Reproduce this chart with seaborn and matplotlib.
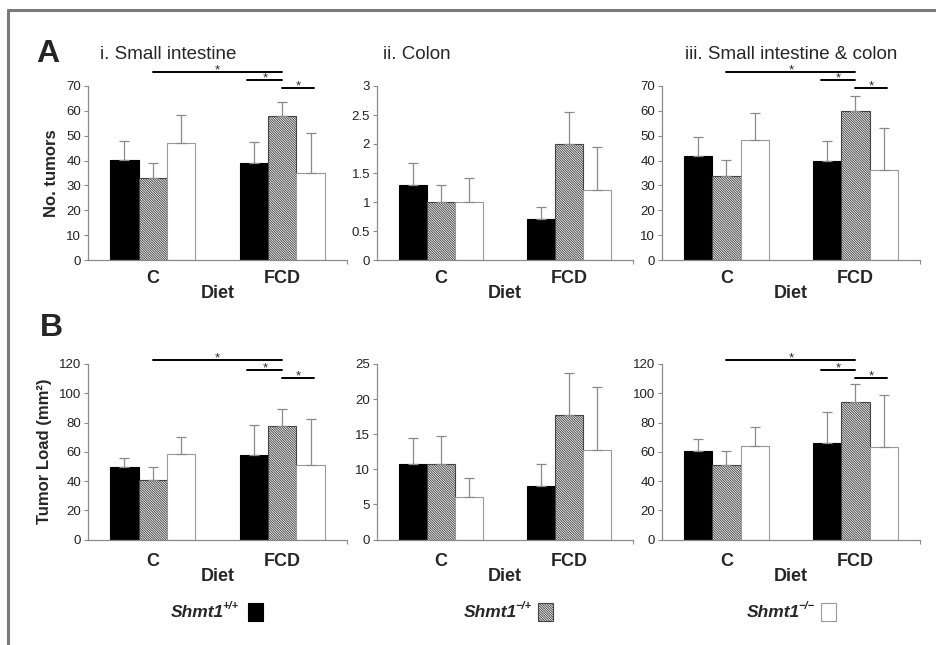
from __future__ import annotations

import matplotlib

matplotlib.use("Agg")

import matplotlib.pyplot as plt
import pandas as pd
import seaborn as sns
from matplotlib.lines import Line2D
from matplotlib.patches import Rectangle


OUTFILE = "out.png"
W, H = 937, 645

DIETS = ["C", "FCD"]
GENOTYPES = ["+/+", "\u2212/+", "\u2212/\u2212"]

# rows: Shmt1 +/+, -/+, -/- ; columns: C, FCD
SI_COUNT = [[40.3, 39.0], [33.0, 58.0], [47.0, 35.2]]
SI_COUNT_SEM = [[7.7, 8.3], [6.2, 5.7], [11.2, 15.8]]
COLON_COUNT = [[1.3, 0.7], [1.0, 2.0], [1.0, 1.2]]
COLON_COUNT_SEM = [[0.38, 0.22], [0.30, 0.55], [0.41, 0.75]]
ALL_COUNT = [[41.8, 39.7], [33.9, 60.0], [48.1, 36.4]]
ALL_COUNT_SEM = [[7.8, 8.0], [6.3, 5.8], [11.2, 16.7]]

SI_LOAD = [[49.3, 57.5], [40.9, 77.3], [58.4, 50.7]]
SI_LOAD_SEM = [[6.4, 21.1], [8.4, 11.8], [11.6, 31.8]]
COLON_LOAD = [[10.7, 7.6], [10.7, 17.7], [6.1, 12.7]]
COLON_LOAD_SEM = [[3.8, 3.1], [4.1, 6.0], [2.7, 9.0]]
ALL_LOAD = [[60.5, 65.7], [51.2, 94.1], [64.1, 63.4]]
ALL_LOAD_SEM = [[8.1, 21.2], [9.1, 12.4], [13.1, 35.5]]

COUNT_TICKS = [0, 10, 20, 30, 40, 50, 60, 70]
COLON_COUNT_TICKS = [0, 0.5, 1, 1.5, 2, 2.5, 3]
LOAD_TICKS = [0, 20, 40, 60, 80, 100, 120]
COLON_LOAD_TICKS = [0, 5, 10, 15, 20, 25]

TITLES = ["i. Small intestine", "ii. Colon", "iii. Small intestine & colon"]

# heights of the significance bars (data units): C vs FCD, +/+ vs -/+, -/+ vs -/-
SIG_COUNT = [75.7, 72.3, 69.2]
SIG_LOAD = [122.5, 115.7, 110.7]

BAR_FACE = {"+/+": "black", "\u2212/+": "white", "\u2212/\u2212": "white"}
BAR_EDGE = ["black", "#444444", "#9a9a9a"]
HATCH = "\\" * 14
AXIS_GRAY = "#8a8a8a"

COL_X = [(88, 347), (377, 633), (662, 920)]
ROW_Y = [(86, 260), (364, 539.5)]


def fx(x):
    return x / W


def fy(y):
    return 1 - y / H


def to_frame(means, sems):
    rows = []
    for g, gm, gs in zip(GENOTYPES, means, sems):
        for d, m, s in zip(DIETS, gm, gs):
            rows.append({"diet": d, "genotype": g, "value": m, "sem": s})
    return pd.DataFrame(rows)


def draw_panel(ax, means, sems, ticks, sig, row):
    df = to_frame(means, sems)
    sns.barplot(
        data=df, x="diet", y="value", hue="genotype", order=DIETS, hue_order=GENOTYPES,
        palette=BAR_FACE, saturation=1, errorbar=None, width=0.66, gap=0,
        legend=False, ax=ax,
    )
    bars = list(ax.containers)
    for cont, edge, g in zip(bars, BAR_EDGE, GENOTYPES):
        sub = df[df["genotype"] == g].set_index("diet").loc[DIETS]
        xs = [p.get_x() + p.get_width() / 2 for p in cont.patches]
        for p in cont.patches:
            p.set_edgecolor(edge)
            p.set_linewidth(0.8)
            if g == "\u2212/+":
                p.set_hatch(HATCH)
        ax.errorbar(
            xs, sub["value"], yerr=[[0] * len(xs), sub["sem"]], fmt="none",
            ecolor=AXIS_GRAY, elinewidth=0.9, capsize=3.5, capthick=0.9, zorder=1,
        )

    ax.set_xlim(-0.5, 1.5)
    ax.set_ylim(0, ticks[-1])
    ax.set_yticks(ticks)
    ax.set_yticklabels([f"{t:g}" for t in ticks])
    ax.set_xticks([1.5], minor=True)
    sns.despine(ax=ax)
    for side in ("left", "bottom"):
        ax.spines[side].set_color(AXIS_GRAY)
        ax.spines[side].set_linewidth(0.9)
    ax.tick_params(axis="y", length=3, width=0.8, color=AXIS_GRAY, labelsize=9.5,
                   labelcolor="#222222", pad=2, left=True)
    ax.tick_params(axis="x", which="major", length=0, labelsize=13,
                   pad=7 if row == 0 else 10)
    ax.tick_params(axis="x", which="minor", length=3, width=0.8, color=AXIS_GRAY, bottom=True)
    for lbl in ax.get_xticklabels():
        lbl.set_fontweight("bold")
    ax.set_xlabel("Diet", fontsize=13, fontweight="bold", labelpad=-1.5)
    ax.set_ylabel("")
    ax.patch.set_alpha(0)

    if sig is not None:
        c = [[p.get_x() + p.get_width() / 2 for p in cont.patches] for cont in bars]
        w = bars[0].patches[0].get_width()
        spans = [(c[1][0], c[1][1]), (c[0][1] - 0.22 * w, c[1][1]), (c[1][1], c[2][1] + 0.1 * w)]
        for (x0, x1), y in zip(spans, sig):
            ax.plot([x0, x1], [y, y], color="black", lw=1.4, clip_on=False)
            ax.annotate("*", xy=((x0 + x1) / 2, y), xytext=(0, -1), textcoords="offset points",
                        ha="center", va="baseline", fontsize=9.5, annotation_clip=False)


def main() -> None:
    sns.set_theme(style="white")
    plt.rcParams["font.family"] = ["Liberation Sans", "DejaVu Sans"]
    plt.rcParams["hatch.linewidth"] = 0.65

    fig = plt.figure(figsize=(W / 100, H / 100), dpi=100)
    fig.patch.set_facecolor("white")

    panels = [
        [(SI_COUNT, SI_COUNT_SEM, COUNT_TICKS, SIG_COUNT),
         (COLON_COUNT, COLON_COUNT_SEM, COLON_COUNT_TICKS, None),
         (ALL_COUNT, ALL_COUNT_SEM, COUNT_TICKS, SIG_COUNT)],
        [(SI_LOAD, SI_LOAD_SEM, LOAD_TICKS, SIG_LOAD),
         (COLON_LOAD, COLON_LOAD_SEM, COLON_LOAD_TICKS, None),
         (ALL_LOAD, ALL_LOAD_SEM, LOAD_TICKS, SIG_LOAD)],
    ]

    for r, (ytop, ybot) in enumerate(ROW_Y):
        for c, (xl, xr) in enumerate(COL_X):
            ax = fig.add_axes([fx(xl), fy(ybot), (xr - xl) / W, (ybot - ytop) / H])
            means, sems, ticks, sig = panels[r][c]
            draw_panel(ax, means, sems, ticks, sig, r)
            if c == 0:
                ax.set_ylabel("No. tumors" if r == 0 else "Tumor Load (mm\u00b2)",
                              fontsize=12, fontweight="bold", labelpad=5)

    # panel titles and letters
    for title, x in zip(TITLES, [100, 383, 685]):
        fig.text(fx(x), fy(59), title, fontsize=13.5, va="baseline", ha="left")
    fig.text(fx(36), fy(62), "A", fontsize=23, fontweight="bold", va="baseline")
    fig.text(fx(40), fy(336), "B", fontsize=23, fontweight="bold", va="baseline")

    # genotype key
    key_text_end = [224, 517, 800]
    key_box_x = [248, 538, 821]
    for g, xe, bx, edge in zip(GENOTYPES, key_text_end, key_box_x, BAR_EDGE):
        fig.text(fx(xe), fy(617), "Shmt1", fontsize=12.5, fontweight="bold", style="italic",
                 ha="right", va="baseline")
        fig.text(fx(xe - 2), fy(609), g, fontsize=8, fontweight="bold", style="italic",
                 ha="left", va="baseline")
        box = Rectangle((fx(bx), fy(621)), 15 / W, 18 / H, transform=fig.transFigure,
                        facecolor=BAR_FACE[g], edgecolor=edge, linewidth=0.8,
                        hatch=HATCH if g == "\u2212/+" else None)
        fig.add_artist(box)

    # frame
    fig.add_artist(Line2D([fx(8), 1], [fy(10), fy(10)], transform=fig.transFigure,
                          color="#7a7a7a", lw=2.2))
    fig.add_artist(Line2D([fx(8), fx(8)], [0, fy(10)], transform=fig.transFigure,
                          color="#7a7a7a", lw=2.2))

    fig.savefig(OUTFILE, dpi=100)
    plt.close(fig)


if __name__ == "__main__":
    main()
